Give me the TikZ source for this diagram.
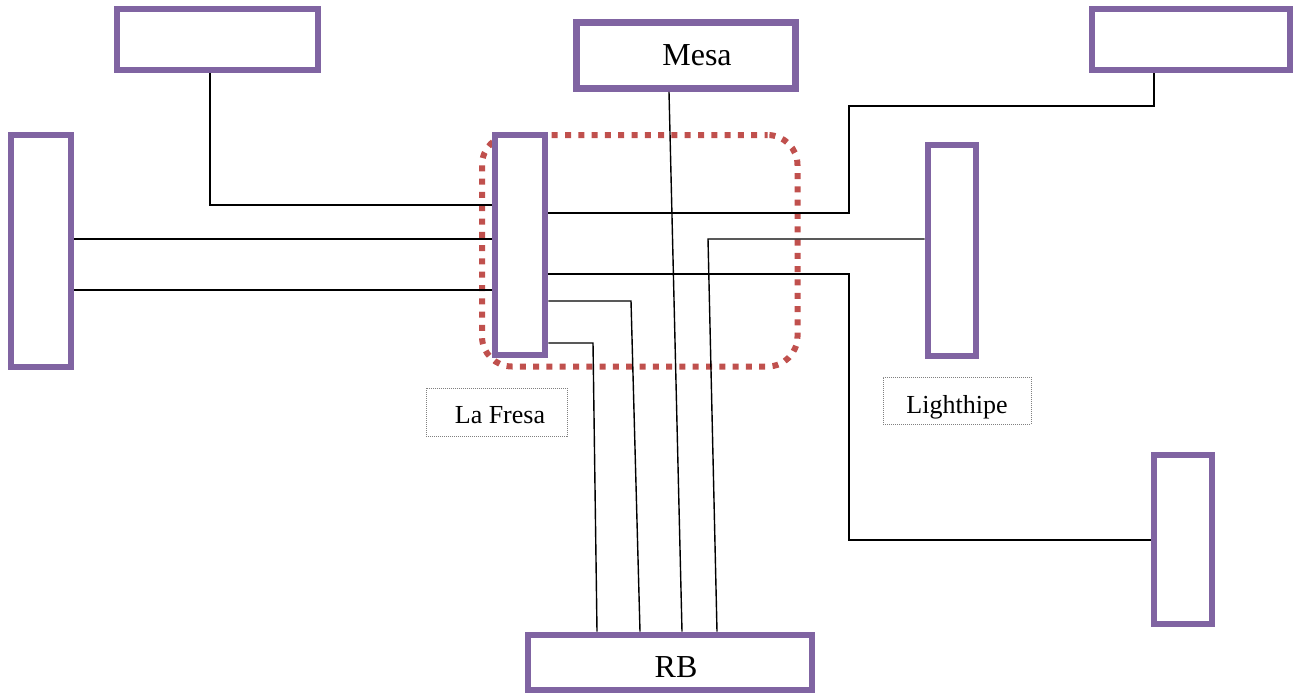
\documentclass[tikz,border=0pt]{standalone}
\usepackage{fontspec}
\setmainfont{Liberation Serif}
\definecolor{boxpurple}{HTML}{8064A2}
\definecolor{grpred}{HTML}{C0504D}
\tikzset{
  pbox/.style={draw=boxpurple, line width=6.8pt, fill=white, rectangle, inner sep=0pt},
  bigtxt/.style={font=\fontsize{32}{36}\selectfont, text depth=0pt},
  lbl/.style={draw=gray, line width=0.6pt, dash pattern=on 1pt off 1pt, rectangle, inner sep=0pt,
              font=\fontsize{26}{30}\selectfont, text depth=0pt},
  grp/.style={draw=grpred, line width=6pt, dash pattern=on 6pt off 7.3pt, dash phase=3pt, rectangle, rounded corners=30pt, inner sep=0pt},
  conn/.style={draw=black, line width=1.4pt}
}
\begin{document}
\begin{tikzpicture}[x=1pt,y=-1pt]
\useasboundingbox (0,0) rectangle (1297,694);
% group frame
\node[grp, minimum width=315.5, minimum height=231.5] (grp) at (639.75,250.75) {};
% helper coordinates
\coordinate (c1) at (210,205);
\coordinate (y239) at (0,239);
\coordinate (y290) at (0,290);
\coordinate (y213) at (0,213);
\coordinate (k4) at (849,106);
\coordinate (x4) at (1154,0);
\coordinate (y274) at (0,274);
\coordinate (k7) at (849,540);
\coordinate (y301) at (0,301);
\coordinate (k8) at (631,301);
\coordinate (x8) at (640,0);
\coordinate (y343) at (0,343);
\coordinate (k9) at (593,343);
\coordinate (x9) at (597,0);
\coordinate (xm1) at (669,0);
\coordinate (xm2) at (682,0);
\coordinate (k6) at (708,239);
\coordinate (x6) at (717,0);
% boxes
\node[pbox, minimum width=201, minimum height=61] (tl) at (217.5,39.5) {};
\node[pbox, minimum width=219, minimum height=66, bigtxt, text height=19pt] (mesa) at (686,55.5) {\hspace*{22pt}Mesa};
\node[pbox, minimum width=198, minimum height=61] (tr) at (1191,39.5) {};
\node[pbox, minimum width=60, minimum height=232] (lt) at (41,251) {};
\node[pbox, minimum width=50, minimum height=220] (lf) at (520,245) {};
\node[pbox, minimum width=48, minimum height=211] (lh) at (952,250.5) {};
\node[pbox, minimum width=58, minimum height=169] (br) at (1183,539.5) {};
\node[pbox, minimum width=284, minimum height=55, bigtxt, text height=29pt] (rb) at (670,662.5) {\hspace*{12pt}RB};
% labels
\node[lbl, minimum width=141, minimum height=48, text height=22pt] (lfl) at (496.5,412) {\hspace*{7pt}La Fresa};
\node[lbl, minimum width=148, minimum height=47, text height=25pt] (lhl) at (957,400.5) {Lighthipe};
% connectors
\draw[conn] (tl.south -| c1) -- (c1) -- (lf.west |- c1);
\draw[conn] (lt.east |- y239) -- (lf.west |- y239);
\draw[conn] (lt.east |- y290) -- (lf.west |- y290);
\draw[conn] (lf.east |- y213) -| (k4) -| (tr.south -| x4);
\draw[conn] (mesa.south -| xm1) -- (rb.north -| xm2);
\draw[conn] (lh.west |- k6) -- (k6) -- (rb.north -| x6);
\draw[conn] (lf.east |- y274) -| (k7) -- (br.west |- k7);
\draw[conn] (lf.east |- y301) -- (k8) -- (rb.north -| x8);
\draw[conn] (lf.east |- y343) -- (k9) -- (rb.north -| x9);
% redraw box outline on top of connector ends
\node[pbox, fill=none, minimum width=50, minimum height=220] at (520,245) {};
\end{tikzpicture}
\end{document}
